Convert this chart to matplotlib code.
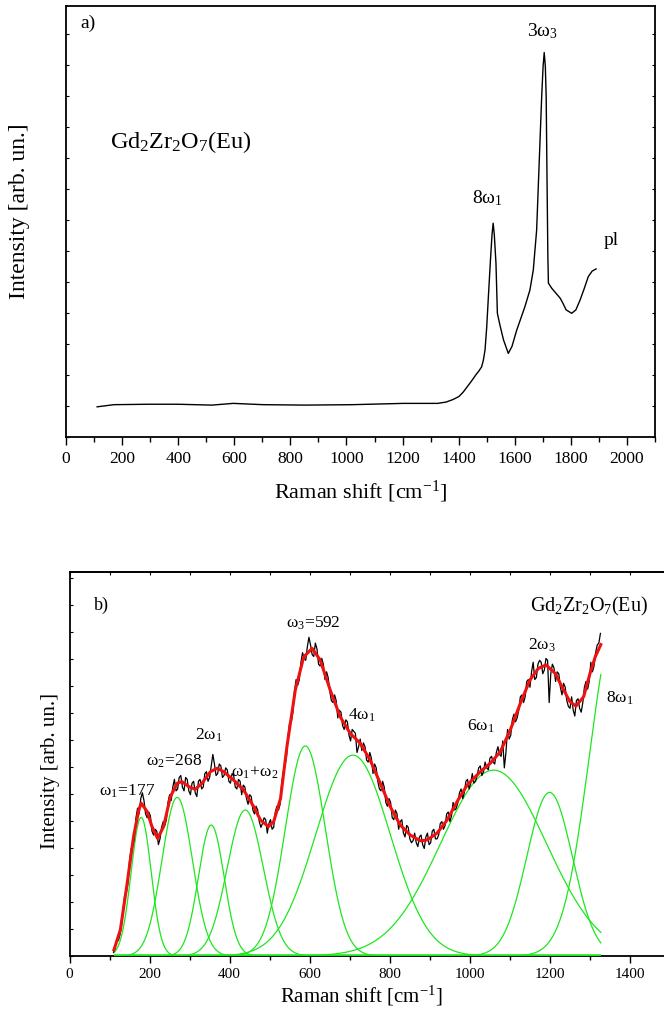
import numpy as np
import matplotlib
matplotlib.use("Agg")
import matplotlib.pyplot as plt
from matplotlib.ticker import MultipleLocator, NullFormatter

plt.rcParams['font.family'] = ['Liberation Serif', 'DejaVu Serif']
plt.rcParams['mathtext.fontset'] = 'custom'
plt.rcParams['mathtext.rm'] = 'Liberation Serif'
plt.rcParams['mathtext.it'] = 'Liberation Serif:italic'
plt.rcParams['mathtext.bf'] = 'Liberation Serif:bold'

# ---------------- Panel a data (full spectrum) ----------------
a_shift = [111, 171, 293, 399, 520, 596, 703, 854, 1021, 1203, 1325, 1355, 1380, 1401,
           1416, 1431, 1446, 1461, 1472, 1482, 1488, 1494, 1500, 1506, 1514, 1519, 1523,
           1527, 1533, 1538, 1547, 1560, 1577, 1590, 1607, 1636, 1654, 1666, 1678, 1687,
           1696, 1701, 1705, 1709, 1712, 1715, 1718, 1720, 1732, 1745, 1762, 1772, 1783,
           1803, 1818, 1833, 1848, 1862, 1876, 1890]
a_int = [0.070, 0.075, 0.076, 0.076, 0.074, 0.078, 0.075, 0.074, 0.075, 0.078, 0.078,
         0.081, 0.087, 0.094, 0.104, 0.117, 0.130, 0.144, 0.153, 0.163, 0.178, 0.202,
         0.255, 0.326, 0.418, 0.470, 0.496, 0.470, 0.403, 0.287, 0.260, 0.225, 0.194,
         0.210, 0.248, 0.302, 0.341, 0.387, 0.480, 0.635, 0.790, 0.860, 0.892, 0.860,
         0.790, 0.600, 0.420, 0.357, 0.345, 0.335, 0.322, 0.310, 0.295, 0.287, 0.295,
         0.318, 0.345, 0.372, 0.385, 0.390]

# ---------------- Panel b data (low-frequency fit) ----------------
fit_shift = [111, 127, 144, 160, 173, 179, 194, 206, 220, 235, 252, 269, 281, 298, 314, 331,
             352, 369, 385, 410, 435, 460, 477, 497, 510, 527, 543, 564, 585, 606, 626, 651,
             676, 701, 726, 751, 776, 801, 826, 851, 876, 893, 918, 943, 968, 993, 1026,
             1051, 1076, 1101, 1126, 1150, 1171, 1190, 1213, 1234, 1250, 1265, 1284, 1300,
             1313, 1327]
fit_int = [0.016, 0.068, 0.189, 0.311, 0.380, 0.398, 0.376, 0.337, 0.306, 0.337, 0.415,
           0.450, 0.454, 0.441, 0.434, 0.450, 0.480, 0.489, 0.480, 0.458, 0.432, 0.389,
           0.354, 0.337, 0.350, 0.410, 0.545, 0.693, 0.779, 0.801, 0.771, 0.693, 0.623,
           0.580, 0.554, 0.510, 0.450, 0.389, 0.341, 0.315, 0.300, 0.302, 0.320, 0.354,
           0.402, 0.445, 0.480, 0.502, 0.532, 0.589, 0.658, 0.719, 0.749, 0.758, 0.736,
           0.693, 0.662, 0.651, 0.675, 0.736, 0.779, 0.811]

# measured spectrum, sampled every 4 cm-1 from 110 to 1326 cm-1
meas_shift = list(range(110, 1327, 4))
meas_int = [
    0.010, 0.020, 0.045, 0.040, 0.055, 0.080, 0.125, 0.160, 0.165, 0.190,
    0.250, 0.280, 0.285, 0.305, 0.360, 0.385, 0.370, 0.410, 0.425, 0.405,
    0.370, 0.360, 0.375, 0.365, 0.325, 0.315, 0.330, 0.325, 0.290, 0.305,
    0.335, 0.350, 0.340, 0.355, 0.400, 0.420, 0.405, 0.440, 0.460, 0.430,
    0.435, 0.465, 0.470, 0.440, 0.430, 0.465, 0.460, 0.430, 0.420, 0.450,
    0.455, 0.425, 0.415, 0.455, 0.460, 0.435, 0.440, 0.475, 0.480, 0.455,
    0.465, 0.495, 0.525, 0.500, 0.470, 0.475, 0.500, 0.495, 0.465, 0.470,
    0.490, 0.485, 0.455, 0.450, 0.475, 0.470, 0.440, 0.435, 0.460, 0.455,
    0.420, 0.445, 0.440, 0.410, 0.395, 0.420, 0.415, 0.380, 0.370, 0.390,
    0.380, 0.350, 0.335, 0.345, 0.360, 0.355, 0.320, 0.345, 0.355, 0.330,
    0.335, 0.375, 0.390, 0.380, 0.395, 0.450, 0.480, 0.495, 0.520, 0.575,
    0.610, 0.610, 0.635, 0.690, 0.720, 0.705, 0.720, 0.765, 0.790, 0.775,
    0.770, 0.805, 0.830, 0.810, 0.785, 0.780, 0.815, 0.800, 0.760, 0.755,
    0.775, 0.760, 0.720, 0.740, 0.725, 0.690, 0.665, 0.660, 0.680, 0.665,
    0.620, 0.640, 0.635, 0.600, 0.590, 0.615, 0.610, 0.575, 0.560, 0.590,
    0.585, 0.580, 0.530, 0.545, 0.565, 0.535, 0.555, 0.545, 0.510, 0.505,
    0.530, 0.515, 0.475, 0.500, 0.490, 0.455, 0.435, 0.430, 0.455, 0.440,
    0.400, 0.390, 0.410, 0.400, 0.360, 0.355, 0.380, 0.370, 0.330, 0.350,
    0.355, 0.320, 0.310, 0.340, 0.335, 0.305, 0.295, 0.300, 0.320, 0.295,
    0.285, 0.310, 0.315, 0.290, 0.280, 0.310, 0.320, 0.290, 0.295, 0.325,
    0.330, 0.305, 0.305, 0.315, 0.345, 0.350, 0.330, 0.340, 0.370, 0.375,
    0.350, 0.365, 0.400, 0.380, 0.385, 0.400, 0.425, 0.435, 0.410, 0.425,
    0.455, 0.460, 0.435, 0.450, 0.475, 0.450, 0.455, 0.470, 0.490, 0.495,
    0.470, 0.480, 0.505, 0.490, 0.485, 0.515, 0.520, 0.505, 0.500, 0.530,
    0.545, 0.525, 0.520, 0.560, 0.490, 0.530, 0.590, 0.565, 0.575, 0.615,
    0.630, 0.610, 0.620, 0.640, 0.675, 0.680, 0.660, 0.675, 0.715, 0.720,
    0.700, 0.740, 0.765, 0.720, 0.725, 0.760, 0.770, 0.765, 0.735, 0.745,
    0.775, 0.770, 0.660, 0.735, 0.760, 0.750, 0.715, 0.740, 0.735, 0.700,
    0.680, 0.710, 0.700, 0.665, 0.650, 0.645, 0.675, 0.640, 0.625, 0.665,
    0.670, 0.645, 0.635, 0.660, 0.700, 0.715, 0.695, 0.715, 0.765, 0.740,
    0.755, 0.790, 0.810, 0.815, 0.840]

# fitted Gaussian components: centre [cm-1], height, sigma [cm-1]
comp_center = [179, 269, 354, 439, 589, 708, 1059, 1199, 1365]
comp_height = [0.361, 0.413, 0.341, 0.380, 0.547, 0.523, 0.484, 0.426, 0.863]
comp_sigma = [25, 38, 32, 45, 50, 93, 132, 57, 66.5]

# peak labels (panel b)
b_labels = [r'$\mathregular{\omega_1\!=\!177}$', r'$\mathregular{\omega_2\!=\!268}$',
            r'$\mathregular{2\omega_1}$', r'$\mathregular{\omega_1\!+\!\omega_2}$',
            r'$\mathregular{\omega_3\!=\!592}$', r'$\mathregular{4\omega_1}$',
            r'$\mathregular{6\omega_1}$', r'$\mathregular{2\omega_3}$']
b_label_x = [144, 261, 348, 463, 608, 729, 1028, 1181]
b_label_y = [0.417, 0.497, 0.564, 0.467, 0.856, 0.616, 0.586, 0.797]

W, H = 664, 1014
fig = plt.figure(figsize=(W / 100, H / 100), dpi=100)


def rect(l, t, r, b):
    return [l / W, 1 - b / H, (r - l) / W, (b - t) / H]


green = '#1ee61e'

# ================= Panel a =================
axA = fig.add_axes(rect(66, 6, 655, 437))
axA.plot(a_shift, a_int, color='black', lw=1.0)
axA.set_xlim(0, 2100)
axA.set_ylim(0, 1)
axA.xaxis.set_major_locator(MultipleLocator(200))
axA.xaxis.set_minor_locator(MultipleLocator(100))
axA.yaxis.set_major_locator(MultipleLocator(62 / 431))
axA.yaxis.set_minor_locator(MultipleLocator(31 / 431))
axA.yaxis.set_major_formatter(NullFormatter())
axA.tick_params(axis='x', which='major', direction='out', length=5.5, width=1.0,
                labelsize=12.5, pad=4.3)
axA.tick_params(axis='x', which='minor', direction='out', length=3.5, width=1.0)
axA.tick_params(axis='y', which='both', direction='in', left=True, right=True,
                length=2.5, width=0.8)
for s in axA.spines.values():
    s.set_linewidth(1.3)

axA.text(53, 0.96, 'a)', fontsize=14, ha='left', va='center')
axA.text(1699, 0.929, r'$\mathregular{3\omega_3}$', fontsize=14, ha='center', va='baseline')
axA.text(1501, 0.542, r'$\mathregular{8\omega_1}$', fontsize=14, ha='center', va='baseline')
axA.text(1945, 0.445, 'pl', fontsize=14, ha='center', va='baseline')
axA.text(157, 0.670, r'$\mathregular{Gd_2Zr_2O_7(Eu)}$', fontsize=17.5, ha='left',
         va='baseline')

fig.text(361 / W, 1 - 492 / H, r'Raman shift [cm$^{\mathregular{-1}}$]', fontsize=16,
         ha='center', va='center')
fig.text(20 / W, 1 - 211 / H, 'Intensity [arb. un.]', fontsize=17, rotation=90,
         ha='center', va='center')

# ================= Panel b =================
axB = fig.add_axes(rect(69.5, 572, 69.5 + 1500 * 0.4004, 956))
xs = np.linspace(meas_shift[0], fit_shift[-1], 800)
for c, h, s in zip(comp_center, comp_height, comp_sigma):
    axB.plot(xs, h * np.exp(-(xs - c) ** 2 / (2 * s ** 2)), color=green, lw=0.9, zorder=2)
axB.plot([meas_shift[0], fit_shift[-1]], [0, 0], color=green, lw=2.6, zorder=3,
         solid_capstyle='butt')
axB.plot(meas_shift, meas_int, color='black', lw=0.9, zorder=4)
axB.plot(fit_shift, fit_int, color='#ee1111', lw=2.2, zorder=5)
axB.set_xlim(0, 1500)
axB.set_ylim(0, 1)
axB.xaxis.set_major_locator(MultipleLocator(200))
axB.xaxis.set_minor_locator(MultipleLocator(100))
axB.yaxis.set_major_locator(MultipleLocator(27 / 384))
axB.yaxis.set_major_formatter(NullFormatter())
axB.tick_params(axis='x', which='major', direction='out', length=4.8, width=1.0,
                labelsize=11, pad=3.5)
axB.tick_params(axis='x', which='minor', direction='out', length=3.0, width=1.0)
axB.tick_params(axis='y', which='both', direction='in', left=True, length=2.5, width=0.8)
for s in axB.spines.values():
    s.set_linewidth(1.3)
axB.spines['right'].set_visible(False)

# inward ticks along the top frame
topB = axB.secondary_xaxis('top')
topB.xaxis.set_major_locator(MultipleLocator(100))
topB.xaxis.set_major_formatter(NullFormatter())
topB.tick_params(direction='in', length=2.5, width=0.8)
topB.spines['top'].set_linewidth(1.3)

for lab, lx, ly in zip(b_labels, b_label_x, b_label_y):
    axB.text(lx, ly, lab, fontsize=12.5, ha='center', va='baseline', zorder=6)
axB.text(1340, 0.660, r'$\mathregular{8\omega_1}$', fontsize=12.5, ha='left', va='baseline')
axB.text(61, 0.901, 'b)', fontsize=13, ha='left', va='baseline')
axB.text(1445, 0.897, r'$\mathregular{Gd_2Zr_2O_7(Eu)}$', fontsize=14.5, ha='right',
         va='baseline')

fig.text(361.5 / W, 1 - 996 / H, r'Raman shift [cm$^{\mathregular{-1}}$]', fontsize=15,
         ha='center', va='center')
fig.text(51 / W, 1 - 771 / H, 'Intensity [arb. un.]', fontsize=15, rotation=90,
         ha='center', va='center')

fig.savefig('out.png', dpi=100)
